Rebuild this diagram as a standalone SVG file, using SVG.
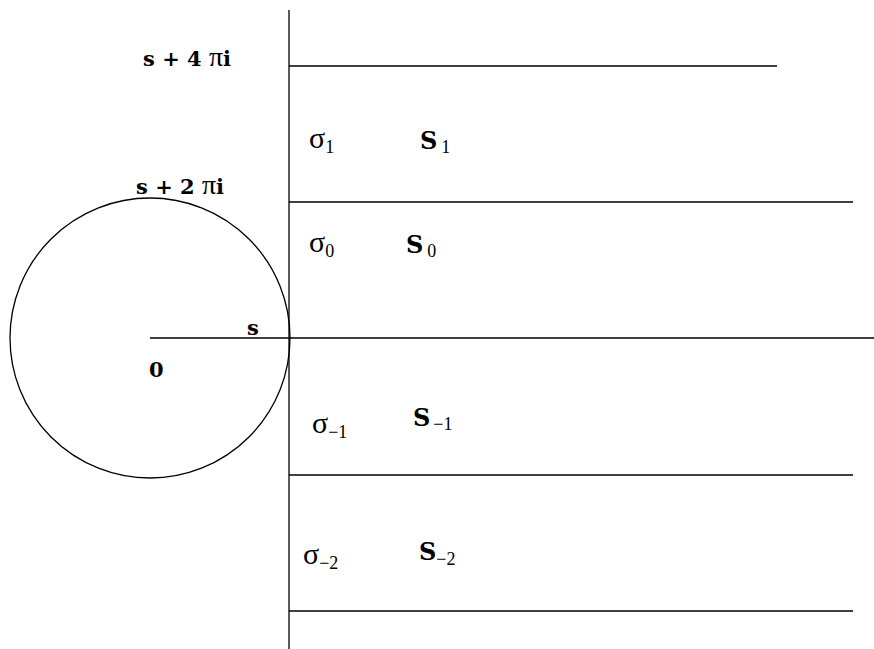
<svg xmlns="http://www.w3.org/2000/svg" width="874" height="649" viewBox="0 0 874 649">
<style>
.ln{stroke:#000;stroke-width:1.3;fill:none}
.b{font-family:"DejaVu Serif",serif;font-weight:bold;font-size:21px;fill:#000}
.pi{font-family:"Liberation Serif",serif;font-weight:normal;font-size:28px}
.g{font-family:"Liberation Serif",serif;font-size:30px;fill:#000}
.sub{font-family:"Liberation Serif",serif;font-weight:normal;font-size:18px;fill:#000}
.S{font-family:"DejaVu Serif",serif;font-weight:bold;font-size:24px;fill:#000}
</style>
<rect width="874" height="649" fill="#fff"/>
<g id="connectors">
<line class="ln" x1="289" y1="10" x2="289" y2="649"/>
<line class="ln" x1="289" y1="66" x2="777" y2="66"/>
<line class="ln" x1="289" y1="202" x2="853" y2="202"/>
<line class="ln" x1="150" y1="338" x2="874" y2="338"/>
<line class="ln" x1="289" y1="475" x2="853" y2="475"/>
<line class="ln" x1="289" y1="611" x2="853" y2="611"/>
<circle class="ln" cx="150" cy="338" r="140"/>
</g>
<g id="label-s4pi"><text class="b" x="143" y="66">s + 4 <tspan class="pi">π</tspan>i</text></g>
<g id="label-s2pi"><text class="b" x="136" y="194">s + 2 <tspan class="pi">π</tspan>i</text></g>
<g id="label-s"><text class="b" x="247" y="335">s</text></g>
<g id="label-0"><text class="b" x="149" y="377">0</text></g>
<g id="sigma1"><text class="g" x="309" y="148">σ<tspan class="sub" dy="5">1</tspan></text></g>
<g id="S1"><text class="S" x="420" y="149">S<tspan class="sub" dx="4" dy="4">1</tspan></text></g>
<g id="sigma0"><text class="g" x="309" y="252">σ<tspan class="sub" dy="5">0</tspan></text></g>
<g id="S0"><text class="S" x="406" y="253">S<tspan class="sub" dx="4" dy="4">0</tspan></text></g>
<g id="sigma-1"><text class="g" x="312" y="433">σ<tspan class="sub" dx="0" dy="5">−1</tspan></text></g>
<g id="S-1"><text class="S" x="413" y="426">S<tspan class="sub" dx="3" dy="4">−1</tspan></text></g>
<g id="sigma-2"><text class="g" x="303" y="564">σ<tspan class="sub" dx="0" dy="5">−2</tspan></text></g>
<g id="S-2"><text class="S" x="419" y="560">S<tspan class="sub" dx="0" dy="5">−2</tspan></text></g>
</svg>
